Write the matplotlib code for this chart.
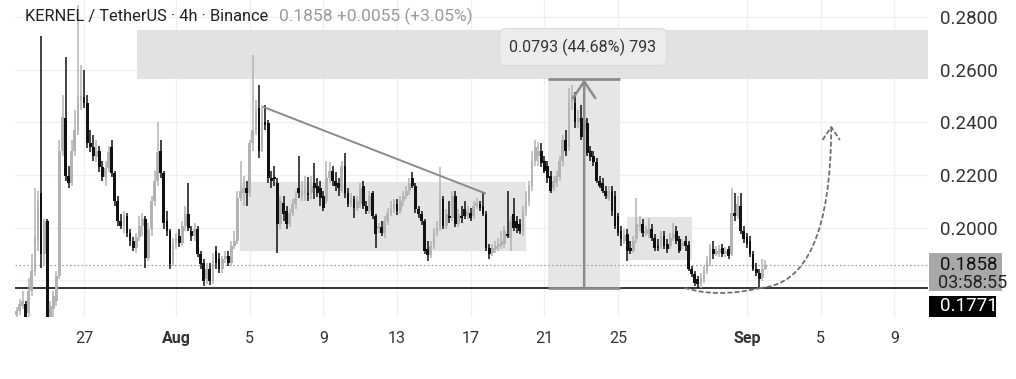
import numpy as np
import pandas as pd
import matplotlib
matplotlib.use("Agg")
import matplotlib.pyplot as plt
import matplotlib.dates as mdates
from matplotlib.patches import Rectangle, FancyArrowPatch
from matplotlib.path import Path
import matplotlib.transforms as mtransforms

# 4h candles, KERNEL/USDT, starting Jul 23 08:00
first_candle = "2025-07-23 08:00"

opens = [
    0.1669, 0.1684, 0.1703, 0.1711, 0.1676, 0.1760, 0.1836, 0.1951, 0.2133, 0.1901, 0.2027, 0.1650,
    0.1692, 0.1722, 0.1817, 0.2293, 0.2415, 0.2198, 0.2168, 0.2293, 0.2370, 0.2480, 0.2495, 0.2472,
    0.2320, 0.2305, 0.2267, 0.2293, 0.2229, 0.2194, 0.2225, 0.2305, 0.2206, 0.2103, 0.2027, 0.2008,
    0.2046, 0.1981, 0.1951, 0.1924, 0.1966, 0.2008, 0.2034, 0.1886, 0.1996, 0.2103, 0.2179, 0.2293,
    0.2206, 0.2027, 0.1989, 0.1867, 0.1943, 0.1970, 0.1943, 0.2008, 0.2053, 0.1989, 0.1970, 0.1996,
    0.1901, 0.1867, 0.1806, 0.1844, 0.1798, 0.1912, 0.1882, 0.1844, 0.1882, 0.1893, 0.1867, 0.1932,
    0.1951, 0.2114, 0.2133, 0.2149, 0.2130, 0.2320, 0.2370, 0.2453, 0.2293, 0.2400, 0.2396, 0.2187,
    0.2192, 0.2171, 0.2015, 0.2095, 0.2065, 0.2015, 0.2057, 0.2092, 0.2152, 0.2122, 0.2133, 0.2133,
    0.2130, 0.2168, 0.2160, 0.2149, 0.2122, 0.2103, 0.2187, 0.2217, 0.2179, 0.2168, 0.2141, 0.2236,
    0.2133, 0.2092, 0.2111, 0.2076, 0.2092, 0.2160, 0.2084, 0.2065, 0.2130, 0.2046, 0.1996, 0.2004,
    0.1981, 0.2027, 0.2057, 0.2072, 0.2092, 0.2065, 0.2103, 0.2122, 0.2141, 0.2187, 0.2160, 0.2072,
    0.2053, 0.2027, 0.1920, 0.1897, 0.1932, 0.1981, 0.2000, 0.2111, 0.2008, 0.2046, 0.2038, 0.2122,
    0.2015, 0.2046, 0.2072, 0.2046, 0.2057, 0.2046, 0.2084, 0.2092, 0.2084, 0.2053, 0.1924, 0.1905,
    0.1920, 0.1928, 0.1935, 0.1939, 0.1977, 0.1962, 0.2053, 0.2027, 0.2015, 0.1989, 0.2065, 0.2103,
    0.2160, 0.2255, 0.2274, 0.2293, 0.2255, 0.2236, 0.2198, 0.2152, 0.2168, 0.2191, 0.2255, 0.2332,
    0.2312, 0.2472, 0.2472, 0.2400, 0.2415, 0.2370, 0.2396, 0.2293, 0.2274, 0.2248, 0.2179, 0.2168,
    0.2141, 0.2114, 0.2141, 0.2122, 0.2046, 0.1989, 0.1951, 0.1977, 0.1924, 0.1912, 0.1958, 0.2008,
    0.2015, 0.1981, 0.1977, 0.1996, 0.1962, 0.1932, 0.1932, 0.1970, 0.1939, 0.1932, 0.1962, 0.1989,
    0.1958, 0.1932, 0.1951, 0.1935, 0.1844, 0.1825, 0.1806, 0.1787, 0.1806, 0.1836, 0.1867, 0.1920,
    0.1901, 0.1905, 0.1924, 0.1901, 0.1920, 0.1901, 0.2057, 0.2046, 0.2084, 0.1989, 0.1966, 0.1951,
    0.1901, 0.1844, 0.1829, 0.1810, 0.1845,
]
highs = [
    0.1699, 0.1730, 0.1760, 0.1722, 0.1810, 0.1901, 0.2152, 0.2141, 0.2728, 0.2034, 0.2034, 0.1722,
    0.1760, 0.1836, 0.2332, 0.2503, 0.2648, 0.2236, 0.2332, 0.2446, 0.2846, 0.2617, 0.2598, 0.2503,
    0.2370, 0.2351, 0.2332, 0.2312, 0.2255, 0.2255, 0.2312, 0.2332, 0.2217, 0.2122, 0.2053, 0.2065,
    0.2057, 0.1996, 0.1966, 0.1981, 0.2046, 0.2057, 0.2046, 0.2019, 0.2122, 0.2217, 0.2400, 0.2332,
    0.2217, 0.2065, 0.1996, 0.1962, 0.1981, 0.1996, 0.2027, 0.2084, 0.2168, 0.2008, 0.2019, 0.2008,
    0.1912, 0.1882, 0.1867, 0.1867, 0.1905, 0.1932, 0.1905, 0.1893, 0.1912, 0.1912, 0.1951, 0.1989,
    0.2141, 0.2255, 0.2198, 0.2179, 0.2332, 0.2655, 0.2484, 0.2541, 0.2465, 0.2465, 0.2408, 0.2217,
    0.2236, 0.2187, 0.2122, 0.2122, 0.2084, 0.2072, 0.2111, 0.2141, 0.2274, 0.2179, 0.2198, 0.2191,
    0.2198, 0.2244, 0.2187, 0.2179, 0.2141, 0.2255, 0.2248, 0.2236, 0.2210, 0.2187, 0.2255, 0.2282,
    0.2149, 0.2133, 0.2122, 0.2122, 0.2168, 0.2179, 0.2103, 0.2141, 0.2141, 0.2053, 0.2019, 0.2027,
    0.2046, 0.2076, 0.2103, 0.2111, 0.2111, 0.2122, 0.2141, 0.2160, 0.2187, 0.2210, 0.2171, 0.2084,
    0.2065, 0.2034, 0.1951, 0.1951, 0.2000, 0.2027, 0.2229, 0.2122, 0.2072, 0.2103, 0.2141, 0.2141,
    0.2072, 0.2084, 0.2103, 0.2084, 0.2076, 0.2103, 0.2114, 0.2103, 0.2130, 0.2065, 0.1939, 0.1939,
    0.1951, 0.1962, 0.1989, 0.2008, 0.2141, 0.2046, 0.2114, 0.2046, 0.2034, 0.2084, 0.2141, 0.2179,
    0.2293, 0.2332, 0.2324, 0.2320, 0.2274, 0.2255, 0.2217, 0.2198, 0.2217, 0.2274, 0.2351, 0.2370,
    0.2530, 0.2541, 0.2514, 0.2446, 0.2465, 0.2446, 0.2415, 0.2312, 0.2293, 0.2263, 0.2198, 0.2187,
    0.2160, 0.2160, 0.2160, 0.2141, 0.2057, 0.2008, 0.1996, 0.1996, 0.1951, 0.1970, 0.2114, 0.2046,
    0.2034, 0.2008, 0.2038, 0.2015, 0.1977, 0.1958, 0.1989, 0.1989, 0.1958, 0.1981, 0.2019, 0.2008,
    0.1970, 0.1958, 0.1970, 0.1951, 0.1855, 0.1836, 0.1817, 0.1829, 0.1855, 0.1893, 0.1939, 0.1951,
    0.1932, 0.1935, 0.1939, 0.1928, 0.1932, 0.2152, 0.2133, 0.2122, 0.2130, 0.2008, 0.1981, 0.1970,
    0.1912, 0.1867, 0.1844, 0.1882, 0.1878,
]
lows = [
    0.1661, 0.1669, 0.1692, 0.1640, 0.1661, 0.1741, 0.1817, 0.1912, 0.1848, 0.1855, 0.1630, 0.1630,
    0.1661, 0.1703, 0.1806, 0.2274, 0.2179, 0.2152, 0.2160, 0.2274, 0.2351, 0.2446, 0.2453, 0.2301,
    0.2286, 0.2255, 0.2248, 0.2210, 0.2179, 0.2160, 0.2210, 0.2191, 0.2084, 0.2008, 0.1996, 0.1981,
    0.1966, 0.1932, 0.1912, 0.1905, 0.1951, 0.1970, 0.1848, 0.1874, 0.1970, 0.2084, 0.2160, 0.2187,
    0.1996, 0.1970, 0.1844, 0.1855, 0.1920, 0.1928, 0.1932, 0.1989, 0.1989, 0.1951, 0.1951, 0.1890,
    0.1844, 0.1779, 0.1787, 0.1783, 0.1787, 0.1844, 0.1829, 0.1829, 0.1867, 0.1855, 0.1855, 0.1920,
    0.1939, 0.2103, 0.2084, 0.2084, 0.2118, 0.2293, 0.2351, 0.2263, 0.2286, 0.2370, 0.2171, 0.2149,
    0.2160, 0.1905, 0.1996, 0.2027, 0.1996, 0.2004, 0.2046, 0.2072, 0.2114, 0.2103, 0.2103, 0.2103,
    0.2111, 0.2111, 0.2118, 0.2084, 0.2065, 0.2092, 0.2171, 0.2160, 0.2141, 0.2122, 0.2130, 0.2114,
    0.2080, 0.2080, 0.2038, 0.2065, 0.2076, 0.2072, 0.2053, 0.2053, 0.2034, 0.1924, 0.1981, 0.1970,
    0.1962, 0.2011, 0.2046, 0.2057, 0.2050, 0.2053, 0.2084, 0.2111, 0.2126, 0.2149, 0.2057, 0.2038,
    0.2011, 0.1901, 0.1874, 0.1886, 0.1920, 0.1970, 0.1989, 0.1996, 0.1996, 0.2019, 0.2027, 0.2004,
    0.2004, 0.2019, 0.2034, 0.2034, 0.2027, 0.2034, 0.2072, 0.2065, 0.2046, 0.1912, 0.1882, 0.1893,
    0.1905, 0.1912, 0.1920, 0.1924, 0.1962, 0.1912, 0.1989, 0.1981, 0.1977, 0.1970, 0.2046, 0.2084,
    0.2141, 0.2236, 0.2236, 0.2229, 0.2206, 0.2171, 0.2130, 0.2141, 0.2156, 0.2179, 0.2236, 0.2274,
    0.2293, 0.2446, 0.2377, 0.2377, 0.2332, 0.2351, 0.2274, 0.2255, 0.2236, 0.2168, 0.2149, 0.2130,
    0.2111, 0.2103, 0.2046, 0.1996, 0.1970, 0.1932, 0.1939, 0.1874, 0.1901, 0.1905, 0.1943, 0.1989,
    0.1966, 0.1970, 0.1962, 0.1951, 0.1912, 0.1912, 0.1920, 0.1920, 0.1905, 0.1920, 0.1951, 0.1939,
    0.1905, 0.1920, 0.1912, 0.1836, 0.1813, 0.1779, 0.1771, 0.1771, 0.1791, 0.1825, 0.1855, 0.1882,
    0.1893, 0.1890, 0.1890, 0.1890, 0.1882, 0.1893, 0.2027, 0.2034, 0.1977, 0.1943, 0.1924, 0.1890,
    0.1836, 0.1817, 0.1771, 0.1798, 0.1840,
]
closes = [
    0.1684, 0.1711, 0.1722, 0.1661, 0.1760, 0.1836, 0.1970, 0.2103, 0.1901, 0.2027, 0.1661, 0.1703,
    0.1741, 0.1817, 0.2293, 0.2419, 0.2198, 0.2168, 0.2293, 0.2370, 0.2495, 0.2500, 0.2472, 0.2320,
    0.2305, 0.2274, 0.2293, 0.2229, 0.2194, 0.2225, 0.2286, 0.2206, 0.2103, 0.2027, 0.2008, 0.2046,
    0.1981, 0.1951, 0.1924, 0.1966, 0.2008, 0.2034, 0.1886, 0.1996, 0.2103, 0.2179, 0.2286, 0.2206,
    0.2019, 0.1989, 0.1863, 0.1943, 0.1962, 0.1943, 0.2008, 0.2053, 0.2000, 0.1970, 0.1996, 0.1901,
    0.1863, 0.1798, 0.1844, 0.1798, 0.1874, 0.1867, 0.1844, 0.1882, 0.1893, 0.1867, 0.1932, 0.1951,
    0.2114, 0.2141, 0.2149, 0.2130, 0.2320, 0.2370, 0.2446, 0.2293, 0.2400, 0.2392, 0.2187, 0.2179,
    0.2184, 0.2015, 0.2103, 0.2053, 0.2015, 0.2057, 0.2092, 0.2114, 0.2133, 0.2141, 0.2149, 0.2126,
    0.2160, 0.2152, 0.2133, 0.2114, 0.2076, 0.2187, 0.2217, 0.2179, 0.2160, 0.2149, 0.2236, 0.2133,
    0.2092, 0.2114, 0.2076, 0.2103, 0.2152, 0.2084, 0.2065, 0.2122, 0.2046, 0.1977, 0.2008, 0.1981,
    0.2027, 0.2057, 0.2072, 0.2092, 0.2065, 0.2103, 0.2122, 0.2141, 0.2171, 0.2160, 0.2072, 0.2053,
    0.2027, 0.1912, 0.1897, 0.1932, 0.1981, 0.2000, 0.2114, 0.2008, 0.2053, 0.2038, 0.2122, 0.2015,
    0.2053, 0.2038, 0.2046, 0.2065, 0.2038, 0.2084, 0.2095, 0.2076, 0.2053, 0.1924, 0.1901, 0.1924,
    0.1932, 0.1939, 0.1951, 0.1989, 0.1970, 0.2027, 0.2000, 0.2000, 0.1989, 0.2065, 0.2103, 0.2160,
    0.2255, 0.2305, 0.2293, 0.2244, 0.2217, 0.2187, 0.2141, 0.2179, 0.2198, 0.2255, 0.2332, 0.2293,
    0.2472, 0.2503, 0.2400, 0.2415, 0.2343, 0.2408, 0.2282, 0.2267, 0.2248, 0.2179, 0.2160, 0.2141,
    0.2122, 0.2141, 0.2065, 0.2008, 0.1981, 0.1958, 0.1973, 0.1912, 0.1912, 0.1951, 0.2015, 0.2012,
    0.1981, 0.1989, 0.1996, 0.1962, 0.1924, 0.1924, 0.1970, 0.1932, 0.1920, 0.1962, 0.1977, 0.1951,
    0.1912, 0.1943, 0.1932, 0.1844, 0.1825, 0.1791, 0.1787, 0.1810, 0.1836, 0.1874, 0.1920, 0.1901,
    0.1912, 0.1920, 0.1901, 0.1912, 0.1893, 0.2057, 0.2046, 0.2092, 0.1989, 0.1958, 0.1939, 0.1901,
    0.1844, 0.1829, 0.1806, 0.1845, 0.1858,
]

tick_dates = ["2025-07-27", "2025-08-01", "2025-08-05", "2025-08-09", "2025-08-13", "2025-08-17",
              "2025-08-21", "2025-08-25", "2025-09-01", "2025-09-05", "2025-09-09"]
tick_labels = ["27", "Aug", "5", "9", "13", "17", "21", "25", "Sep", "5", "9"]
price_ticks = [0.18, 0.20, 0.22, 0.24, 0.26, 0.28]
price_labels = ["", "0.2000", "0.2200", "0.2400", "0.2600", "0.2800"]

last_price = 0.1858
support = 0.1771
target = 0.2564

UP = "#b3b3b3"
DOWN = "#111111"

plt.rcParams['font.family'] = ['Roboto', 'DejaVu Sans']

times = mdates.date2num(pd.date_range(first_candle, periods=len(closes), freq="4h"))
o = np.array(opens); h = np.array(highs); l = np.array(lows); c = np.array(closes)
up = c >= o
cols = np.where(up, UP, DOWN)

aug1 = mdates.date2num(pd.Timestamp("2025-08-01"))
def day(d):
    return aug1 + d

fig = plt.figure(figsize=(10.16, 3.79), dpi=100)
ax = fig.add_axes([15 / 1016, 62 / 379, 913 / 1016, 317 / 379])
ax.set_xlim(mdates.date2num(pd.Timestamp("2025-07-23 06:00")), mdates.date2num(pd.Timestamp("2025-09-10 20:00")))
ax.set_ylim(0.1661, 0.28648)

# zones
ax.add_patch(Rectangle((day(-2.12), target), day(45) - day(-2.12), 0.2750 - target,
                       fc="#e2e2e2", ec="none", zorder=1))
ax.add_patch(Rectangle((day(3.48), 0.1912), day(19.01) - day(3.48), 0.2175 - 0.1912,
                       fc="#e4e4e4", ec="none", zorder=1))
ax.add_patch(Rectangle((day(24.5), 0.1878), day(28.03) - day(24.5), 0.2042 - 0.1878,
                       fc="#e4e4e4", ec="none", zorder=1))
ax.add_patch(Rectangle((day(20.2), support), day(24.12) - day(20.2), target - support,
                       fc="#e6e6e6", ec="none", zorder=1))
ax.hlines([target, support], day(20.2), day(24.12), colors="#8c8c8c", lw=2, zorder=4)
ax.annotate("", xy=(day(22.16), target), xytext=(day(22.16), support),
            arrowprops=dict(arrowstyle="->,head_length=1.2,head_width=0.8", color="#8c8c8c", lw=1.8,
                            shrinkA=0, shrinkB=0), zorder=4)
ax.text(day(22.1), 0.2686, "0.0793 (44.68%) 793", ha="center", va="center", fontsize=11.5, color="#333333",
        zorder=6, bbox=dict(boxstyle="round,pad=0.62,rounding_size=0.4", fc="#ececec", ec="#dcdcdc", lw=0.8))

# trend line
ax.plot([day(4.76), day(16.77)], [0.2458, 0.2131], color="#8a8a8a", lw=1.4, zorder=4)

# levels
ax.axhline(support, color="#111111", lw=1.2, zorder=2)
ax.axhline(last_price, color="#9a9a9a", lw=0.8, ls=(0, (1.5, 2)), zorder=2)

# candles
ax.vlines(times, l, h, colors=cols, lw=1.1, zorder=3)
body = np.maximum(np.abs(c - o), 0.0004)
ax.bar(times, body, bottom=np.minimum(o, c), width=0.15, color=cols, lw=0, zorder=3)

# projected path
bowl = Path([(day(27.65), support), (day(29.4), 0.1733), (day(31.72), support)],
            [Path.MOVETO, Path.CURVE3, Path.CURVE3])
ax.add_patch(FancyArrowPatch(path=bowl, arrowstyle="-", color="#6f6f6f", lw=1.3,
                             linestyle=(0, (2, 2)), zorder=5))
rise = Path([(day(31.72), support), (day(35.55), 0.1790), (day(35.58), 0.2389)],
            [Path.MOVETO, Path.CURVE3, Path.CURVE3])
ax.add_patch(FancyArrowPatch(path=rise, arrowstyle="->,head_length=9,head_width=6", color="#6f6f6f", lw=1.3,
                             linestyle=(0, (2, 2)), zorder=5))

# axes styling
for s in ax.spines.values():
    s.set_visible(False)
ax.set_xticks([mdates.date2num(pd.Timestamp(t)) for t in tick_dates])
ax.set_xticklabels(tick_labels)
for lab in ax.get_xticklabels():
    if lab.get_text() in ("Aug", "Sep"):
        lab.set_fontweight("bold")
ax.tick_params(axis="x", length=0, pad=10, labelsize=11.5, labelcolor="#333333")
ax.yaxis.tick_right()
ax.set_yticks(price_ticks)
ax.set_yticklabels(price_labels)
ax.tick_params(axis="y", length=0, pad=9, labelsize=13.5, labelcolor="#333333")
ax.grid(True, color="#f0f0f0", lw=1, zorder=0)
ax.set_axisbelow(True)

# price scale badges
blend = mtransforms.blended_transform_factory(ax.transAxes, ax.transData)
ax.add_patch(Rectangle((1.001, 0.1760), 0.080, 0.0145, transform=blend, fc="#a8a8a8", ec="none",
                       clip_on=False, zorder=6))
ax.text(1.013, last_price, "0.1858", transform=blend, fontsize=13.5, color="#111111", va="center",
        clip_on=False, zorder=7)
ax.text(1.011, 0.17895, "03:58:55", transform=blend, fontsize=13, color="#222222", va="center",
        clip_on=False, zorder=7)
ax.add_patch(Rectangle((1.001, 0.1661), 0.074, 0.0080, transform=blend, fc="#000000", ec="none",
                       clip_on=False, zorder=6))
ax.text(1.013, 0.1701, "0.1771", transform=blend, fontsize=13.5, color="white", va="center",
        clip_on=False, zorder=7)

fig.text(25 / 1016, 1 - 16 / 379, "KERNEL / TetherUS · 4h · Binance", fontsize=11.8, color="#222222",
         va="center")
fig.text(279 / 1016, 1 - 16 / 379, "0.1858 +0.0055 (+3.05%)", fontsize=12.5, color="#9a9a9a",
         va="center")

fig.savefig("out.png", dpi=100, facecolor="white")
